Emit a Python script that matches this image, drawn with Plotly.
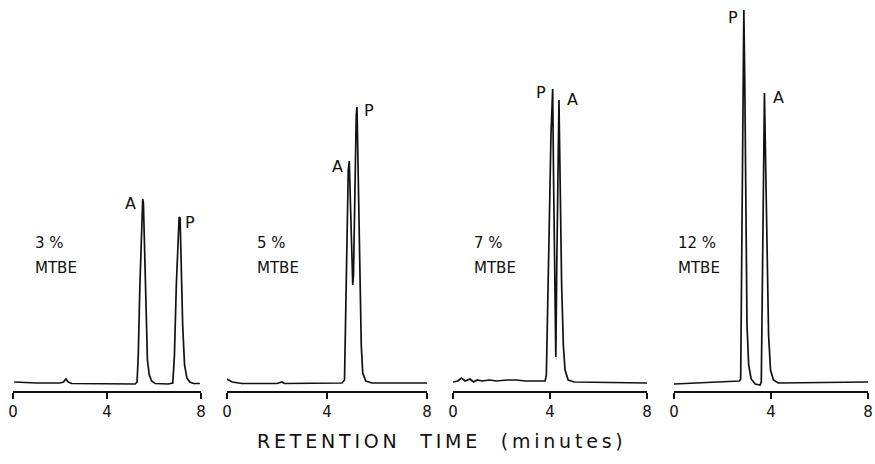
import plotly.graph_objects as go

# Chromatograms of the A / P separation at four MTBE levels in the mobile phase.
# Retention time in minutes, detector response in arbitrary units above baseline.

mtbe_labels = ["3 %", "5 %", "7 %", "12 %"]

time_3 = [0.05, 1.0, 2.0, 2.15, 2.25, 2.35, 2.5, 4.0, 5.2, 5.28, 5.33, 5.40, 5.47, 5.52, 5.55,
          5.60, 5.66, 5.72, 5.80, 5.90, 6.05, 6.6, 6.8, 6.87, 6.95, 7.02, 7.07, 7.11, 7.16,
          7.22, 7.30, 7.40, 7.52, 7.68, 7.95]
resp_3 = [3, 2, 2, 3, 6, 3, 1.5, 1, 1, 3, 30, 100, 160, 186, 182,
          130, 60, 25, 10, 4, 1.5, 1, 2, 30, 100, 150, 168, 167, 120,
          60, 20, 7, 3, 1.5, 1.5]

time_5 = [0.0, 0.2, 0.6, 2.0, 2.2, 2.3, 4.6, 4.7, 4.74, 4.79, 4.85, 4.89, 4.93, 4.98, 5.03,
          5.06, 5.11, 5.17, 5.20, 5.24, 5.30, 5.37, 5.43, 5.55, 5.8, 8.0]
resp_5 = [6, 3, 1.5, 1.5, 3, 1.5, 2, 5, 60, 150, 215, 224, 180, 130, 100,
          110, 200, 270, 278, 220, 120, 40, 12, 4, 2, 2]

time_7 = [0.0, 0.2, 0.35, 0.5, 0.7, 0.85, 1.0, 1.2, 1.5, 1.8, 2.2, 2.6, 3.0, 3.5, 3.8, 3.85,
          3.90, 3.97, 4.04, 4.11, 4.15, 4.20, 4.24, 4.28, 4.33, 4.37, 4.42, 4.48, 4.55,
          4.62, 4.75, 5.0, 8.0]
resp_7 = [3, 4, 7, 4, 6, 3, 5, 4, 5, 4, 5, 5, 4, 4, 4, 10,
          60, 160, 250, 296, 200, 60, 28, 120, 240, 285, 200, 100, 40,
          15, 5, 3, 2]

time_12 = [0.0, 1.0, 2.0, 2.7, 2.75, 2.79, 2.84, 2.88, 2.92, 2.96, 3.01, 3.08, 3.18, 3.35,
           3.55, 3.60, 3.64, 3.69, 3.73, 3.78, 3.84, 3.90, 3.98, 4.10, 4.30, 8.0]
resp_12 = [1, 2, 3, 4, 6, 100, 280, 375, 300, 150, 60, 20, 6, 1,
           0, 3, 80, 220, 292, 220, 120, 50, 15, 5, 2, 3]

times = [time_3, time_5, time_7, time_12]
responses = [resp_3, resp_5, resp_7, resp_12]

# peak labels: (text, time, response) per panel
peak_labels = [
    [("A", 4.98, 182), ("P", 7.53, 163)],
    [("A", 4.40, 219), ("P", 5.68, 275)],
    [("P", 3.63, 293), ("A", 4.91, 286)],
    [("P", 2.44, 368), ("A", 4.31, 288)],
]
mtbe_label_time = [0.85, 1.12, 0.78, 0.08]

tick_vals = [0, 4, 8]
tick_text = ["0", "4", "8"]

axis_title = "RETENTION  TIME  (minutes)"

W, H = 875, 464
panel_px = [(13, 201), (227, 427), (453, 647), (674, 868)]
font = "DejaVu Sans"
ink = "#111111"


def spaced(s):
    # open letter spacing for the axis lettering
    return "\u2009".join("&nbsp;" if c == " " else c for c in s)


fig = go.Figure()
for i in range(4):
    xa = "x" if i == 0 else f"x{i + 1}"
    fig.add_trace(go.Scatter(x=times[i], y=responses[i], mode="lines", xaxis=xa, yaxis="y",
                             line=dict(color=ink, width=1.7), showlegend=False,
                             hoverinfo="skip", cliponaxis=False))

layout = dict(
    width=W, height=H, margin=dict(l=0, r=0, t=5, b=73, autoexpand=False),
    paper_bgcolor="white", plot_bgcolor="white", showlegend=False,
    yaxis=dict(range=[-6, 380], visible=False, domain=[0, 1], fixedrange=True,
               automargin=False),
)
annotations = []
for i, (x0, x1) in enumerate(panel_px):
    dom = [x0 / W, x1 / W]
    key = "xaxis" if i == 0 else f"xaxis{i + 1}"
    layout[key] = dict(
        domain=dom, range=[0, 8], anchor="y", showgrid=False, zeroline=False,
        showline=True, linecolor=ink, linewidth=1.6, automargin=False,
        ticks="outside", ticklen=6, tickwidth=1.6, tickcolor=ink,
        tickvals=tick_vals, ticktext=tick_text, ticklabeloverflow="allow",
        tickfont=dict(family=font, size=15, color=ink),
    )
    # short upward ticks so each mark crosses the axis line
    layout[f"xaxis{i + 5}"] = dict(
        domain=dom, range=[0, 8], anchor="y", overlaying="x" if i == 0 else f"x{i + 1}",
        showgrid=False, zeroline=False, showline=False, automargin=False,
        ticks="inside", ticklen=5, tickwidth=1.6, tickcolor=ink,
        tickvals=tick_vals, showticklabels=False,
    )
    xr = "x" if i == 0 else f"x{i + 1}"
    for txt, t, r in peak_labels[i]:
        annotations.append(dict(text=txt, x=t, y=r, xref=xr, yref="y", showarrow=False,
                                font=dict(family=font, size=16, color=ink)))
    annotations.append(dict(text=mtbe_labels[i], x=mtbe_label_time[i], y=142, xref=xr,
                            yref="y", xanchor="left", showarrow=False,
                            font=dict(family=font, size=15, color=ink)))
    annotations.append(dict(text="MTBE", x=mtbe_label_time[i], y=117, xref=xr,
                            yref="y", xanchor="left", showarrow=False,
                            font=dict(family=font, size=15, color=ink)))

annotations.append(dict(text=spaced(axis_title),
                        x=440 / W, y=(391 - 441) / 386, xref="paper", yref="paper",
                        yanchor="middle", showarrow=False,
                        font=dict(family=font, size=19, color=ink)))
layout["annotations"] = annotations

fig.update_layout(**layout)
fig.write_html("out.html")
